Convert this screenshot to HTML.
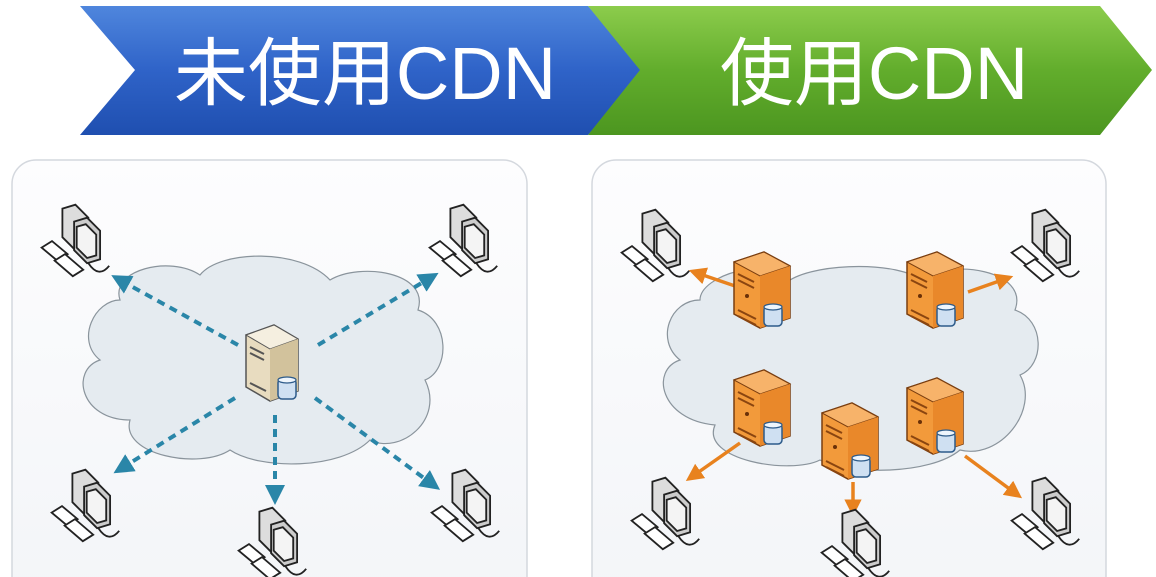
<!DOCTYPE html>
<html><head><meta charset="utf-8"><style>
html,body{margin:0;padding:0;background:#fff;width:1156px;height:577px;overflow:hidden}
</style></head><body>
<svg width="1156" height="577" viewBox="0 0 1156 577" xmlns="http://www.w3.org/2000/svg" font-family="Liberation Sans, Noto Sans CJK SC, sans-serif">
<defs>
<linearGradient id="gb" x1="0" y1="0" x2="0" y2="1"><stop offset="0" stop-color="#4f86dd"/><stop offset="0.5" stop-color="#2f63c8"/><stop offset="1" stop-color="#1f4fb0"/></linearGradient>
<linearGradient id="gg" x1="0" y1="0" x2="0" y2="1"><stop offset="0" stop-color="#8ccc4c"/><stop offset="0.5" stop-color="#62ad2c"/><stop offset="1" stop-color="#4c9620"/></linearGradient>
<linearGradient id="pg" x1="0" y1="0" x2="0" y2="1"><stop offset="0" stop-color="#fdfdfe"/><stop offset="1" stop-color="#f3f5f8"/></linearGradient>
<marker id="ab" markerWidth="5" markerHeight="5" refX="2.5" refY="2.5" orient="auto" markerUnits="strokeWidth"><path d="M0,0 L5,2.5 L0,5 Z" fill="#2a86a8"/></marker>
<marker id="ao" markerWidth="5" markerHeight="5" refX="2.5" refY="2.5" orient="auto" markerUnits="strokeWidth"><path d="M0,0 L5,2.5 L0,5 Z" fill="#e8821e"/></marker>
<g id="pc0" fill="none" stroke="#222" stroke-width="1.4">
<path d="M-12,-28 l10,-3 l10,10 l0,22 l-10,3 l-10,-10 z" fill="#ddd"/>
<path d="M-3,-18 l10,-3 l10,10 l0,22 l-10,3 l-10,-10 z" fill="#ccc"/>
<path d="M-1,-14 l7,-2 l8,8 l0,16 l-7,2 l-8,-8z" fill="#f4f4f4"/>
<path d="M-28,2 l8,-5 l12,10 l-8,5z" fill="#fff"/>
<path d="M-18,12 l8,-5 l14,12 l-8,5z" fill="#fff"/>
<path d="M8,14 q8,12 16,2"/>
</g>
<g id="pc"><use href="#pc0" transform="scale(1.3)"/></g>
<g id="srv">
<path d="M-28,-30 l30,-10 l26,14 l0,52 l-30,10 l-26,-14z" fill="#f29a3b" stroke="#7a3e10" stroke-width="1.5"/>
<path d="M-28,-30 l30,-10 l26,14 l-30,10z" fill="#f7b36a" stroke="#7a3e10" stroke-width="1"/>
<path d="M-2,-16 l30,-10 l0,52 l-30,10z" fill="#e9882a"/>
<path d="M-24,-18 l16,8 M-24,-12 l16,8 M-24,18 l18,9 M-24,24 l18,9" stroke="#8a4510" stroke-width="2"/>
<circle cx="-15" cy="4" r="2" fill="#6a3008"/>
<rect x="2" y="14" width="18" height="20" rx="4" fill="#cfe0f2" stroke="#2d5b8a" stroke-width="1.5"/>
<ellipse cx="11" cy="15" rx="9" ry="3" fill="#eef5fc" stroke="#2d5b8a" stroke-width="1.2"/>
</g>
</defs>

<path d="M80,6 L588,6 L645,70 L588,135 L80,135 L135,70 Z" fill="url(#gb)"/>
<path d="M588,6 L1100,6 L1152,70 L1100,135 L588,135 L640,70 Z" fill="url(#gg)"/>
<text x="365" y="99" font-size="74" fill="#fff" text-anchor="middle">未使用CDN</text>
<text x="874" y="99" font-size="74" fill="#fff" text-anchor="middle">使用CDN</text>

<rect x="12" y="160" width="515" height="440" rx="24" fill="url(#pg)" stroke="#d4d8de" stroke-width="1.5"/>
<rect x="592" y="160" width="514" height="440" rx="24" fill="url(#pg)" stroke="#d4d8de" stroke-width="1.5"/>

<path d="M120,300 C110,270 170,255 200,275 C220,250 300,248 330,280 C360,262 430,272 418,310 C450,320 450,370 425,380 C445,420 400,455 370,440 C340,470 260,470 230,450 C200,470 120,455 130,420 C80,420 70,370 100,360 C75,340 95,300 120,300 Z" fill="#e5ebf0" stroke="#8a949c" stroke-width="1.2"/>
<path d="M700,300 C700,275 770,255 790,280 C820,262 900,262 920,280 C950,258 1030,270 1015,310 C1045,320 1045,365 1020,375 C1040,410 1000,460 960,450 C930,475 850,475 820,460 C790,475 700,460 715,425 C660,420 650,370 680,360 C655,340 670,300 700,300 Z" fill="#e5ebf0" stroke="#8a949c" stroke-width="1.2"/>

<g stroke="#2a86a8" stroke-width="4" stroke-dasharray="8,6" fill="none" marker-end="url(#ab)">
<line x1="238" y1="345" x2="120" y2="280"/>
<line x1="318" y1="345" x2="430" y2="278"/>
<line x1="235" y1="398" x2="122" y2="468"/>
<line x1="275" y1="415" x2="275" y2="495"/>
<line x1="315" y1="398" x2="432" y2="484"/>
</g>

<g transform="translate(272,365)">
<path d="M-26,-30 l28,-10 l24,14 l0,52 l-28,10 l-24,-14z" fill="#e8dcc0" stroke="#555" stroke-width="1.5"/>
<path d="M-26,-30 l28,-10 l24,14 l-28,10z" fill="#f5efe0" stroke="#555" stroke-width="1"/>
<path d="M-2,-16 l28,-10 l0,52 l-28,10z" fill="#d2c29c"/>
<path d="M-22,-18 l14,7 M-22,-12 l14,7 M-22,18 l16,8" stroke="#555" stroke-width="2"/>
<rect x="6" y="14" width="18" height="20" rx="4" fill="#cfe0f2" stroke="#2d5b8a" stroke-width="1.5"/>
<ellipse cx="15" cy="15" rx="9" ry="3" fill="#eef5fc" stroke="#2d5b8a" stroke-width="1.2"/>
</g>

<g stroke="#e8821e" stroke-width="3.5" fill="none" marker-end="url(#ao)">
<line x1="735" y1="286" x2="697" y2="273"/>
<line x1="968" y1="292" x2="1005" y2="279"/>
<line x1="740" y1="443" x2="693" y2="476"/>
<line x1="853" y1="482" x2="853" y2="508"/>
<line x1="965" y1="456" x2="1015" y2="493"/>
</g>

<use href="#srv" x="762" y="292"/>
<use href="#srv" x="935" y="292"/>
<use href="#srv" x="762" y="410"/>
<use href="#srv" x="850" y="443"/>
<use href="#srv" x="935" y="418"/>

<use href="#pc" x="78" y="245"/>
<use href="#pc" x="466" y="245"/>
<use href="#pc" x="88" y="510"/>
<use href="#pc" x="275" y="548"/>
<use href="#pc" x="468" y="510"/>
<use href="#pc" x="658" y="250"/>
<use href="#pc" x="1048" y="250"/>
<use href="#pc" x="668" y="518"/>
<use href="#pc" x="858" y="550"/>
<use href="#pc" x="1048" y="518"/>
</svg>
</body></html>
